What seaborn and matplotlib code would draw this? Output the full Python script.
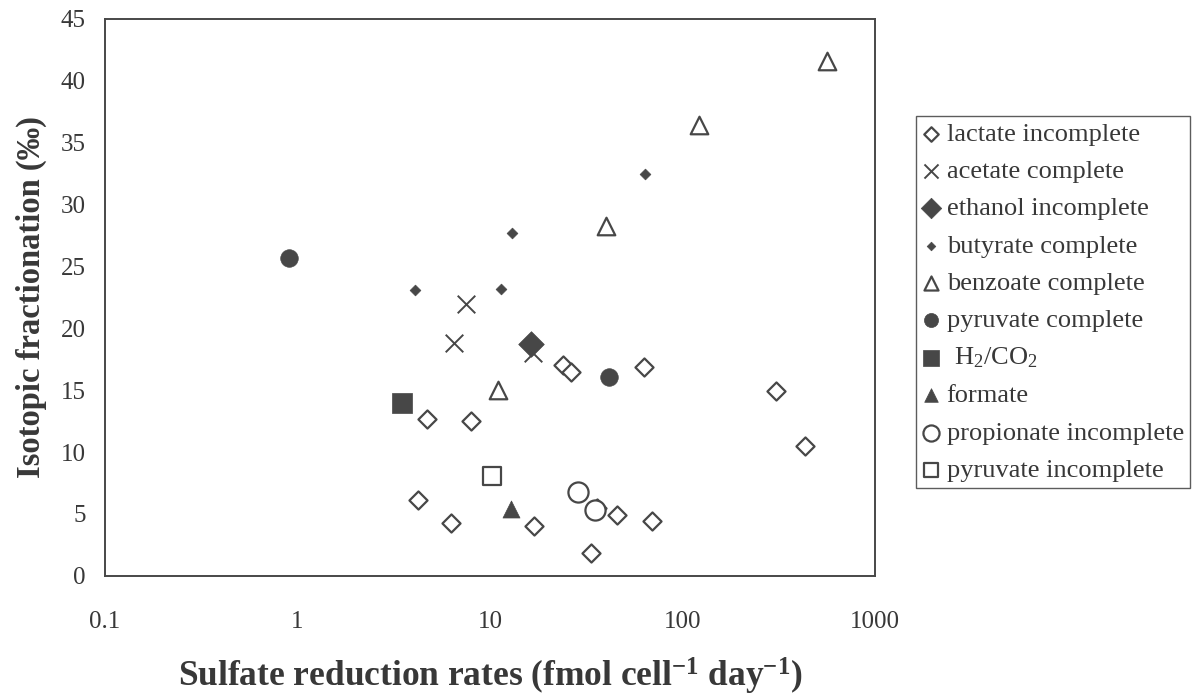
import numpy as np
import pandas as pd
import matplotlib
matplotlib.use("Agg")
import matplotlib.pyplot as plt
import seaborn as sns

# ---- data ----
lactate_x = [4.7, 8.0, 4.25, 6.25, 24.0, 26.3, 63.0, 305, 430, 17.0, 33.4, 45.5, 69.0, 35.8]
lactate_y = [12.7, 12.5, 6.1, 4.3, 17.0, 16.5, 16.9, 14.9, 10.5, 4.0, 1.85, 4.9, 4.4, 5.45]
acetate_x = [7.5, 6.5, 16.8]
acetate_y = [22.0, 18.8, 18.0]
ethanol_x = [16.3]
ethanol_y = [18.7]
butyrate_x = [4.07, 11.4, 13.0, 63.8]
butyrate_y = [23.1, 23.2, 27.7, 32.5]
benzoate_x = [11.0, 40.1, 122, 565]
benzoate_y = [15.0, 28.3, 36.4, 41.6]
pyrcomp_x = [0.9, 41.7]
pyrcomp_y = [25.7, 16.05]
h2co2_x = [3.48]
h2co2_y = [13.95]
formate_x = [12.9]
formate_y = [5.4]
propionate_x = [28.8, 35.1]
propionate_y = [6.75, 5.35]
pyrincomp_x = [10.2]
pyrincomp_y = [8.1]

labels = ["lactate incomplete", "acetate complete", "ethanol incomplete",
          "butyrate complete", "benzoate complete", "pyruvate complete",
          r"$\;$H$_2$/CO$_2$", "formate", "propionate incomplete",
          "pyruvate incomplete"]
xticks = [0.1, 1, 10, 100, 1000]
xticklabels = ["0.1", "1", "10", "100", "1000"]
yticks = [0, 5, 10, 15, 20, 25, 30, 35, 40, 45]

series = [
    (lactate_x, lactate_y), (acetate_x, acetate_y), (ethanol_x, ethanol_y),
    (butyrate_x, butyrate_y), (benzoate_x, benzoate_y), (pyrcomp_x, pyrcomp_y),
    (h2co2_x, h2co2_y), (formate_x, formate_y), (propionate_x, propionate_y),
    (pyrincomp_x, pyrincomp_y),
]

INK = "#474747"
TXT = "#383838"
# marker, size, filled
styles = [
    ("D", 85, False), ("x", 160, None), ("D", 170, True), ("D", 30, True),
    ("^", 160, False), ("o", 160, True), ("s", 210, True), ("^", 150, True),
    ("o", 210, False), ("s", 180, False),
]

sns.set_theme(style="white")
plt.rcParams["font.family"] = ["Liberation Serif", "DejaVu Serif"]
plt.rcParams["mathtext.default"] = "regular"
plt.rcParams["mathtext.fontset"] = "custom"
plt.rcParams["mathtext.rm"] = "Liberation Serif"
plt.rcParams["mathtext.bf"] = "Liberation Serif:bold"

fig = plt.figure(figsize=(11.93, 6.98), dpi=100)
ax = fig.add_axes([0.088, 0.175, 0.6455, 0.798])

for (xs, ys), lab, (mk, sz, filled) in zip(series, labels, styles):
    df = pd.DataFrame({"x": xs, "y": ys})
    if filled is None:
        kw = dict(color=INK, linewidth=1.4)
    elif filled:
        kw = dict(color=INK, edgecolor=INK, linewidth=0.5)
    else:
        kw = dict(facecolor="white", edgecolor=INK, linewidth=1.6)
    sns.scatterplot(data=df, x="x", y="y", marker=mk, s=sz, label=lab,
                    ax=ax, zorder=3, **kw)

ax.set_xscale("log")
ax.set_xlim(0.1, 1000)
ax.set_ylim(0, 45)
ax.set_xticks(xticks)
ax.set_xticklabels(xticklabels)
ax.set_yticks(yticks)
ax.minorticks_off()
ax.tick_params(axis="both", direction="out", length=5, width=1.0, color=INK,
               labelsize=18, labelcolor=TXT)
ax.tick_params(axis="x", pad=20)
ax.tick_params(axis="y", pad=9)
for sp in ax.spines.values():
    sp.set_color(INK)
    sp.set_linewidth(1.4)

ax.set_xlabel(r"Sulfate reduction rates (fmol cell$^{\mathbf{-1}}$ day$^{\mathbf{-1}}$)",
              fontsize=25.5, fontweight="bold", color=TXT, labelpad=17)
ax.set_ylabel("Isotopic fractionation (‰)", fontsize=23.5, fontweight="bold",
              color=TXT, labelpad=10)

leg = ax.legend(loc="upper left", bbox_to_anchor=(0.768, 0.834),
                bbox_transform=fig.transFigure, frameon=True, fancybox=False,
                edgecolor="#333333", fontsize=19, handlelength=0.6,
                handletextpad=0.3, labelspacing=0.52, borderpad=0.25,
                borderaxespad=0, markerscale=0.8)
leg.get_frame().set_linewidth(1.0)
for t in leg.get_texts():
    t.set_color(TXT)

fig.savefig("out.png", dpi=100, facecolor="white")
